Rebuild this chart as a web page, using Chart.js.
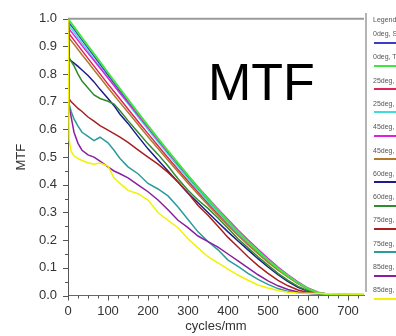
<!DOCTYPE html>
<html>
<head>
<meta charset="utf-8">
<script src="https://cdn.jsdelivr.net/npm/chart.js@4"></script>
<style>
  html, body { margin: 0; padding: 0; background: #fff; }
  #wrap { position: relative; width: 396px; height: 336px; overflow: hidden; background: #fff; }
  #c { position: absolute; left: 0; top: 0; }
  #legend { position: absolute; left: 365px; top: 13px; width: 40px; height: 279px; border-left: 2px solid #b4b4b4;
            font-family: "Liberation Sans", Arial, sans-serif; font-size: 7px; color: #555; white-space: nowrap; }
  .lt { position: absolute; left: 6px; line-height: 9px; }
  .ll { position: absolute; left: 7px; width: 40px; height: 2px; }
</style>
</head>
<body>
<div id="wrap">
  <canvas id="c" width="396" height="336"></canvas>
  <div id="legend"></div>
</div>
<script>
// ---- data ----
const freq = [0, 3, 8, 15, 25, 35, 50, 65, 80, 100, 115, 130, 150, 175, 200, 225, 250, 275, 300, 325, 350, 375, 400, 425, 450, 475, 500, 525, 550, 575, 600, 625, 650, 700, 740];

const deg0S  = [1.0, .985, .976, .963, .943, .923, .894, .865, .836, .797, .768, .739, .702, .654, .607, .561, .516, .471, .428, .385, .343, .303, .264, .227, .191, .157, .125, .095, .068, .044, .024, .010, .004, .003, .003];
const deg0T  = [1.0, .994, .984, .971, .951, .931, .902, .873, .844, .805, .776, .747, .709, .661, .614, .568, .523, .478, .434, .391, .349, .308, .269, .231, .195, .161, .128, .098, .071, .046, .025, .010, .004, .003, .003];
const deg25S = [1.0, .945, .936, .923, .904, .885, .857, .829, .801, .764, .737, .710, .674, .629, .585, .541, .498, .455, .414, .373, .333, .295, .258, .222, .188, .155, .124, .095, .069, .045, .025, .011, .005, .003, .003];
const deg25T = [1.0, .975, .965, .952, .932, .912, .883, .854, .826, .787, .759, .730, .693, .646, .600, .555, .510, .466, .423, .381, .340, .300, .262, .225, .190, .157, .125, .096, .069, .045, .024, .010, .004, .003, .003];
const deg45S = [1.0, .962, .953, .941, .922, .903, .876, .849, .822, .786, .759, .732, .697, .652, .607, .562, .518, .475, .433, .392, .352, .313, .275, .237, .201, .167, .134, .103, .075, .049, .027, .012, .005, .003, .003];
const deg45T = [1.0, .930, .921, .908, .889, .870, .843, .815, .788, .751, .724, .697, .662, .618, .574, .531, .489, .447, .406, .366, .327, .289, .252, .217, .183, .151, .120, .092, .066, .043, .023, .010, .005, .003, .003];
const deg60S = [1.0, .852, .848, .840, .828, .815, .795, .772, .745, .712, .686, .655, .622, .575, .530, .490, .450, .410, .370, .335, .300, .265, .230, .197, .165, .133, .103, .075, .050, .030, .015, .007, .004, .003, .003];
const deg60T = [1.0, .860, .846, .830, .800, .775, .750, .725, .712, .702, .692, .668, .632, .590, .548, .510, .468, .422, .380, .345, .315, .280, .243, .205, .172, .140, .110, .080, .055, .033, .017, .008, .004, .003, .003];
const deg75S = [1.0, .710, .700, .690, .676, .665, .645, .630, .614, .598, .585, .572, .553, .526, .500, .475, .445, .410, .370, .325, .290, .250, .210, .175, .140, .108, .080, .055, .035, .020, .011, .007, .005, .004, .003];
const deg75T = [1.0, .690, .665, .638, .612, .590, .575, .560, .572, .552, .525, .495, .465, .440, .405, .385, .360, .320, .275, .230, .195, .165, .128, .105, .080, .058, .040, .025, .015, .010, .007, .005, .004, .003, .003];
const deg85S = [1.0, .680, .645, .590, .550, .525, .508, .500, .486, .465, .450, .440, .425, .400, .375, .345, .310, .272, .245, .215, .195, .175, .150, .125, .100, .075, .053, .035, .022, .013, .008, .006, .005, .004, .003];
const deg85T = [1.0, .560, .520, .505, .495, .488, .480, .474, .479, .468, .425, .405, .380, .368, .345, .300, .272, .245, .205, .172, .140, .118, .095, .074, .055, .038, .027, .018, .012, .009, .008, .007, .006, .005, .005];

const seriesNames = ["0deg, S", "0deg, T", "25deg, S", "25deg, T", "45deg, S", "45deg, T",
                     "60deg, S", "60deg, T", "75deg, S", "75deg, T", "85deg, S", "85deg, T"];
const seriesValues = [deg0S, deg0T, deg25S, deg25T, deg45S, deg45T, deg60S, deg60T, deg75S, deg75T, deg85S, deg85T];
const xTickValues = [0, 100, 200, 300, 400, 500, 600, 700];
const yTickValues = [0.0, 0.1, 0.2, 0.3, 0.4, 0.5, 0.6, 0.7, 0.8, 0.9, 1.0];

// ---- styles ----
const colors = ["#3c3cc8", "#3ee83e", "#e0245a", "#40dcdc", "#e020e0", "#b07a2a",
                "#1c1c8c", "#2e8c2e", "#a82020", "#2a9c9c", "#8a20a0", "#f2f200"];
const FONT = '"Liberation Sans", Arial, sans-serif';

const datasets = seriesValues.map((vals, i) => ({
  label: seriesNames[i],
  data: freq.map((f, j) => ({ x: f, y: vals[j] })),
  borderColor: colors[i],
  borderWidth: i === 1 ? 2 : 1.5,
  pointRadius: 0,
  tension: 0,
  fill: false,
  order: i === 11 ? -30 : (i === 1 ? -20 : -i)
}));

const decor = {
  id: 'decor',
  afterDraw(chart) {
    const ctx = chart.ctx;
    const xs = chart.scales.x, ys = chart.scales.y;
    const a = chart.chartArea;
    ctx.save();
    ctx.strokeStyle = '#9a9a9a';
    ctx.lineWidth = 2;
    ctx.beginPath();
    ctx.moveTo(a.left, a.top);
    ctx.lineTo(a.right, a.top);
    ctx.stroke();
    ctx.strokeStyle = '#555';
    ctx.lineWidth = 1;
    ctx.beginPath();
    for (let k = 0; k <= 20; k++) {
      const y = Math.round(ys.getPixelForValue(k * 0.05)) + 0.5;
      const len = k % 2 === 0 ? 5 : 3;
      ctx.moveTo(a.left - len, y);
      ctx.lineTo(a.left, y);
    }
    for (let v = 0; v <= 725; v += 25) {
      const x = Math.round(xs.getPixelForValue(v)) + 0.5;
      const len = v % 100 === 0 ? 5 : 3;
      ctx.moveTo(x, a.bottom);
      ctx.lineTo(x, a.bottom + len);
    }
    ctx.stroke();
    ctx.fillStyle = '#000';
    ctx.font = '52px ' + FONT;
    ctx.textBaseline = 'alphabetic';
    ctx.textAlign = 'left';
    ctx.fillText('MTF', 208, 100);
    ctx.restore();
  }
};

new Chart(document.getElementById('c'), {
  type: 'line',
  data: { datasets },
  options: {
    responsive: false,
    animation: false,
    devicePixelRatio: 1,
    layout: { padding: { left: 0, right: 32, top: 17, bottom: 0 } },
    plugins: { legend: { display: false }, tooltip: { enabled: false } },
    scales: {
      x: {
        type: 'linear', min: 0, max: 740,
        afterBuildTicks: s => { s.ticks = xTickValues.map(v => ({ value: v })); },
        afterFit: s => { s.height = 40.5; },
        grid: { display: false, drawTicks: false },
        border: { display: true, color: '#666', width: 1 },
        ticks: { padding: 8, color: '#333', font: { family: FONT, size: 13 }, maxRotation: 0, autoSkip: false,
                 callback: v => String(v) },
        title: { display: true, text: 'cycles/mm', color: '#333', font: { family: FONT, size: 13 },
                 padding: { top: 0, bottom: 1.5 } }
      },
      y: {
        type: 'linear', min: 0, max: 1,
        afterBuildTicks: s => { s.ticks = yTickValues.map(v => ({ value: v })); },
        afterFit: s => { s.width = 68; },
        grid: { display: false, drawTicks: false },
        border: { display: true, color: '#555', width: 1 },
        ticks: { padding: 11, color: '#333', font: { family: FONT, size: 13 },
                 callback: v => Number(v).toFixed(1) },
        title: { display: true, text: 'MTF', color: '#333', font: { family: FONT, size: 13 },
                 padding: { top: 14, bottom: 0 } }
      }
    }
  },
  plugins: [decor]
});

// ---- HTML legend ----
const leg = document.getElementById('legend');
const head = document.createElement('div');
head.className = 'lt'; head.style.top = '2px'; head.textContent = 'Legend';
leg.appendChild(head);
seriesNames.forEach((name, i) => {
  const t = document.createElement('div');
  t.className = 'lt';
  t.style.top = (16 + i * 23.3) + 'px';
  t.textContent = name;
  leg.appendChild(t);
  const l = document.createElement('div');
  l.className = 'll';
  l.style.top = (28.5 + i * 23.3) + 'px';
  l.style.background = colors[i];
  leg.appendChild(l);
});
</script>
</body>
</html>
